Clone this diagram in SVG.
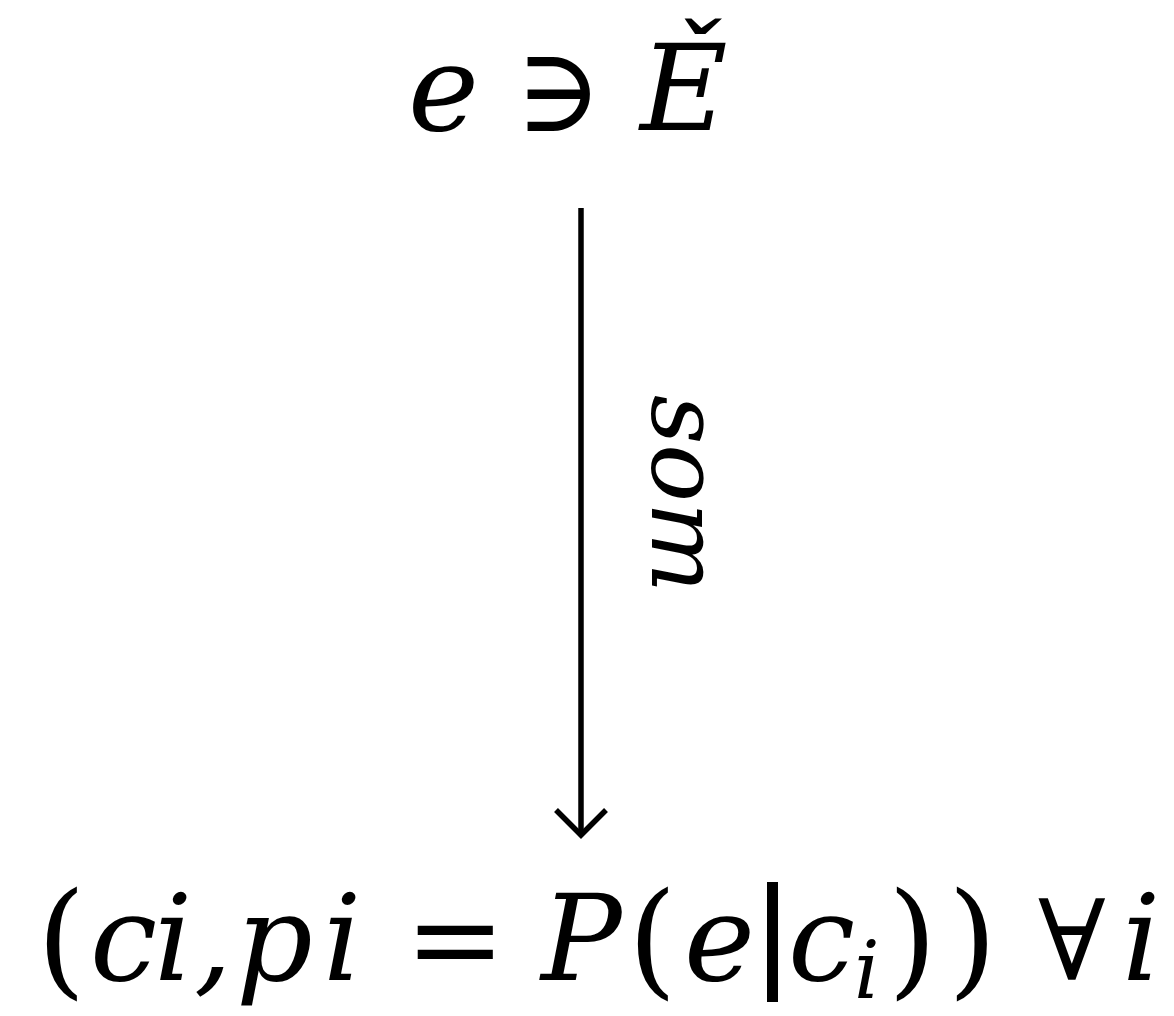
<svg xmlns="http://www.w3.org/2000/svg" width="1174" height="1016" viewBox="0 0 1174 1016">
<style>
.m{font-family:"DejaVu Serif","Liberation Serif",serif;font-style:italic;fill:#000}
.u{font-family:"DejaVu Serif","Liberation Serif",serif;font-style:normal;fill:#000}
</style>
<rect width="1174" height="1016" fill="#fff"/>
<g id="top">
<text class="m" font-size="120" x="408" y="130">e</text>
<text class="u" font-size="118" x="515" y="131">∋</text>
<text class="m" font-size="120" x="640" y="130">Ě</text>
</g>
<g id="bottom">
<text class="u" font-size="125" x="37" y="982">(</text>
<text class="m" font-size="120" x="90" y="980">c</text>
<text class="m" font-size="120" x="154" y="980">i</text>
<text class="m" font-size="120" x="194" y="980">,</text>
<text class="m" font-size="120" x="236" y="980">p</text>
<text class="m" font-size="120" x="323" y="980">i</text>
<text class="u" font-size="120" x="405" y="980">=</text>
<text class="m" font-size="120" x="541" y="980">P</text>
<text class="u" font-size="125" x="628" y="982">(</text>
<text class="m" font-size="120" x="684" y="980">e</text>
<rect x="767" y="882" width="11" height="120"/>
<text class="m" font-size="120" x="788" y="980">c</text>
<text class="m" font-size="80" x="854" y="998">i</text>
<text class="u" font-size="125" x="888" y="982">)</text>
<text class="u" font-size="125" x="948" y="982">)</text>
<text class="u" font-size="112" x="1038" y="980">∀</text>
<text class="m" font-size="120" x="1122" y="980">i</text>
</g>
<g id="connectors" fill="none" stroke="#000" stroke-width="5.5">
<line x1="581" y1="208" x2="581" y2="834"/>
<polyline points="556,810 581,835 606,810"/>
</g>
<g id="label">
<text class="m" font-size="96" transform="translate(652,395) rotate(90)">som</text>
</g>
</svg>
